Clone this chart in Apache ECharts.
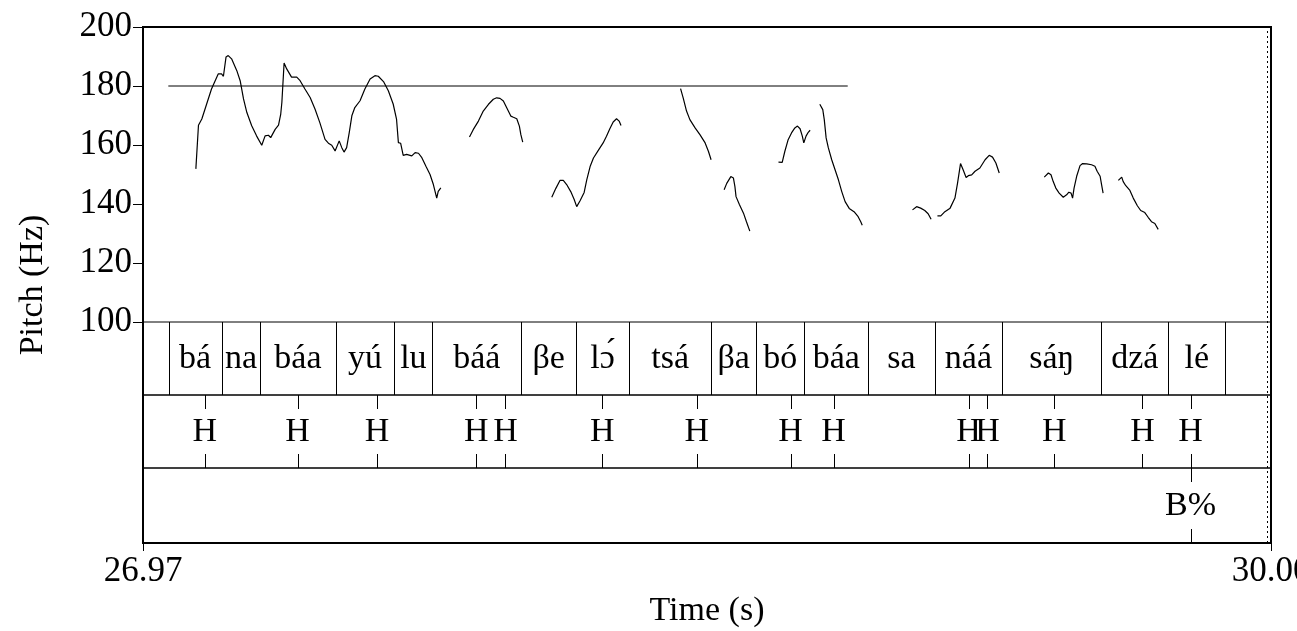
<!DOCTYPE html>
<html>
<head>
<meta charset="utf-8">
<script src="https://cdn.jsdelivr.net/npm/echarts@6/dist/echarts.min.js"></script>
<style>
  html, body { margin: 0; padding: 0; background: #fff; }
  #chart { width: 1297px; height: 631px; }
</style>
</head>
<body>
<div id="chart"></div>
<script>
// time window (s)
const tMin = 26.97
const tMax = 30.00
const soundEnd = 29.989

// pitch contour pieces [time, Hz]
const seg1 = [[27.112,151.9],[27.119,166.7],[27.128,168.8],[27.141,173.9],[27.154,179.0],[27.172,184.1],[27.181,184.1],[27.186,183.3],[27.193,189.8],[27.199,190.3],[27.208,189.2],[27.222,185.2],[27.231,181.8],[27.240,175.6],[27.249,171.0],[27.262,166.5],[27.275,163.1],[27.289,159.9],[27.298,163.1],[27.307,163.3],[27.313,162.5],[27.325,165.3],[27.334,166.7],[27.340,170.5],[27.343,174.4],[27.349,187.8],[27.356,185.8],[27.369,183.0],[27.383,183.0],[27.392,181.8],[27.405,179.0],[27.419,176.1],[27.432,172.2],[27.445,167.6],[27.459,161.9],[27.468,160.6],[27.477,159.9],[27.486,158.0],[27.490,158.0],[27.497,161.4],[27.504,159.1],[27.510,157.6],[27.517,159.1],[27.524,164.2],[27.531,169.9],[27.539,172.7],[27.553,175.0],[27.566,179.0],[27.580,182.4],[27.593,183.5],[27.602,183.3],[27.616,181.5],[27.629,178.4],[27.642,173.9],[27.651,168.8],[27.656,160.8],[27.662,160.6],[27.669,156.5],[27.678,156.8],[27.692,156.3],[27.701,157.4],[27.710,157.2],[27.719,155.7],[27.730,152.8],[27.741,150.0],[27.750,146.6],[27.759,142.0],[27.763,144.3],[27.770,145.5]]
const seg2 = [[27.847,162.7],[27.857,165.2],[27.871,168.1],[27.884,171.5],[27.898,173.8],[27.911,175.5],[27.920,176.0],[27.929,175.8],[27.938,174.9],[27.947,172.6],[27.958,169.8],[27.965,169.4],[27.974,168.9],[27.981,166.4],[27.985,163.5],[27.990,161.0]]
const seg3 = [[28.068,142.3],[28.079,145.3],[28.090,148.0],[28.099,148.0],[28.108,146.6],[28.119,144.2],[28.128,141.6],[28.135,139.1],[28.144,141.1],[28.155,143.9],[28.162,148.2],[28.171,152.7],[28.180,155.6],[28.193,158.2],[28.206,160.7],[28.215,163.0],[28.224,165.5],[28.233,167.8],[28.242,168.9],[28.249,168.1],[28.254,166.6]]
const seg4 = [[28.414,179.1],[28.421,176.0],[28.430,171.5],[28.439,168.6],[28.453,165.8],[28.466,163.5],[28.480,160.7],[28.489,157.8],[28.496,155.0]]
const seg5 = [[28.531,144.8],[28.538,147.0],[28.549,149.3],[28.556,148.8],[28.560,145.9],[28.563,142.5],[28.572,139.8],[28.583,136.9],[28.591,134.0],[28.600,130.8]]
const seg6 = [[28.677,154.2],[28.687,154.1],[28.694,157.8],[28.703,161.8],[28.712,164.1],[28.721,165.8],[28.728,166.4],[28.735,165.5],[28.741,163.0],[28.745,160.7],[28.751,163.0],[28.757,164.3],[28.762,165.0]]
const seg7 = [[28.788,173.8],[28.796,172.0],[28.800,168.6],[28.805,162.4],[28.811,159.0],[28.820,155.0],[28.829,151.6],[28.838,148.2],[28.847,144.2],[28.856,140.8],[28.867,138.5],[28.880,137.4],[28.891,135.7],[28.898,134.0],[28.902,132.8]]
const seg8 = [[29.037,138.0],[29.048,139.1],[29.059,138.6],[29.070,137.8],[29.079,136.7],[29.087,134.8]]
const seg9 = [[29.104,136.0],[29.113,136.0],[29.124,137.4],[29.138,138.6],[29.151,142.0],[29.158,147.1],[29.166,153.7],[29.173,151.6],[29.181,149.0],[29.187,149.6],[29.196,149.9],[29.205,151.1],[29.218,152.2],[29.232,155.0],[29.243,156.5],[29.252,155.9],[29.261,153.9],[29.270,150.5]]
const seg10 = [[29.391,149.1],[29.402,150.5],[29.409,149.9],[29.415,147.6],[29.422,145.4],[29.431,143.7],[29.442,142.3],[29.451,143.1],[29.457,144.0],[29.463,143.7],[29.467,142.0],[29.471,145.4],[29.478,149.4],[29.487,153.0],[29.494,153.7],[29.505,153.6],[29.518,153.3],[29.527,152.8],[29.533,151.1],[29.541,149.4],[29.545,146.5],[29.549,143.7]]
const seg11 = [[29.590,148.0],[29.599,149.1],[29.603,147.6],[29.610,146.2],[29.621,144.6],[29.630,142.0],[29.641,139.4],[29.650,137.8],[29.661,137.1],[29.670,135.5],[29.679,134.0],[29.688,133.4],[29.697,131.4]]
const segments = [seg1, seg2, seg3, seg4, seg5, seg6, seg7, seg8, seg9, seg10, seg11]

// flat reference line
const refTimes = [27.038, 28.863]
const refHz = 180

// syllable tier
const sylBounds = [27.0385, 27.1817, 27.2848, 27.4876, 27.6455, 27.7471, 27.9864, 28.1325, 28.2768, 28.4957, 28.6171, 28.7463, 28.9181, 29.0963, 29.2781, 29.5443, 29.7242, 29.8771]
const syllables = ['bá', 'na', 'báa', 'yú', 'lu', 'báá', 'βe', 'lɔ́', 'tsá', 'βa', 'bó', 'báa', 'sa', 'náá', 'sáŋ', 'dzá', 'lé']

// tone tier
const toneTimes = [27.1357, 27.3853, 27.5988, 27.8652, 27.9437, 28.2039, 28.4575, 28.7094, 28.8249, 29.1875, 29.2383, 29.418, 29.6547, 29.7839]
const toneLabels = ['H', 'H', 'H', 'H', 'H', 'H', 'H', 'H', 'H', 'H', 'H', 'H', 'H', 'H']

// boundary tier
const bndTimes = [29.7839]
const bndLabels = ['B%']

const FONT = '"Liberation Serif", "Times New Roman", serif'

let myChart = echarts.init(document.getElementById('chart'))

// 画区间层（音节）
function renderIntervals(params, api) {
  let s = api.value(0), e = api.value(1)
  let top = api.coord([s, 1]), bot = api.coord([s, 0])
  let top2 = api.coord([e, 1]), bot2 = api.coord([e, 0])
  let ls = { stroke: '#000', lineWidth: 1 }
  return {
    type: 'group',
    children: [
      { type: 'line', shape: { x1: Math.round(top[0]) + 0.5, y1: top[1], x2: Math.round(bot[0]) + 0.5, y2: bot[1] }, style: ls },
      { type: 'line', shape: { x1: Math.round(top2[0]) + 0.5, y1: top2[1], x2: Math.round(bot2[0]) + 0.5, y2: bot2[1] }, style: ls },
      { type: 'text', x: (top[0] + top2[0]) / 2, y: (top[1] + bot[1]) / 2 + 1,
        style: { text: syllables[params.dataIndex], fill: '#000', font: '34px ' + FONT, align: 'center', verticalAlign: 'middle' } }
    ]
  }
}

// 画点层（H, B%）
function makePointRenderer(labels) {
  return function (params, api) {
    let t = api.value(0)
    let top = api.coord([t, 1]), bot = api.coord([t, 0])
    let x = Math.round(top[0]) + 0.5
    let ls = { stroke: '#000', lineWidth: 1 }
    return {
      type: 'group',
      children: [
        { type: 'line', shape: { x1: x, y1: top[1], x2: x, y2: top[1] + 14 }, style: ls },
        { type: 'line', shape: { x1: x, y1: bot[1] - 14, x2: x, y2: bot[1] }, style: ls },
        { type: 'text', x: top[0], y: (top[1] + bot[1]) / 2 + 1,
          style: { text: labels[params.dataIndex], fill: '#000', font: '34px ' + FONT, align: 'center', verticalAlign: 'middle' } }
      ]
    }
  }
}

let hiddenX = i => ({ type: 'value', gridIndex: i, min: tMin, max: tMax, show: false })
let hiddenY = i => ({ type: 'value', gridIndex: i, min: 0, max: 1, show: false })

let series = segments.map(seg => ({
  type: 'line', xAxisIndex: 1, yAxisIndex: 1,
  data: seg, showSymbol: false, symbol: 'none', silent: true,
  lineStyle: { color: '#000', width: 1.2 }
}))

series.push({
  type: 'line', xAxisIndex: 1, yAxisIndex: 1,
  data: refTimes.map(t => [t, refHz]), showSymbol: false, symbol: 'none', silent: true,
  lineStyle: { color: '#000', width: 1 }
})

// end of sound, dotted
series.push({
  type: 'line', xAxisIndex: 0, yAxisIndex: 0, data: [],
  markLine: {
    silent: true, symbol: ['none', 'none'], label: { show: false },
    lineStyle: { color: '#000', width: 1, type: [2, 3] },
    data: [{ xAxis: soundEnd }]
  }
})

series.push({
  type: 'custom', xAxisIndex: 2, yAxisIndex: 2, silent: true,
  data: syllables.map((w, i) => [sylBounds[i], sylBounds[i + 1]]),
  encode: { x: [0, 1] },
  renderItem: renderIntervals
})
series.push({
  type: 'custom', xAxisIndex: 3, yAxisIndex: 3, silent: true,
  data: toneTimes.map(t => [t]), encode: { x: 0 },
  renderItem: makePointRenderer(toneLabels)
})
series.push({
  type: 'custom', xAxisIndex: 4, yAxisIndex: 4, silent: true,
  data: bndTimes.map(t => [t]), encode: { x: 0 },
  renderItem: makePointRenderer(bndLabels)
})

let baseGrid = { left: 143, width: 1128, containLabel: false, outerBoundsMode: 'none' }

let option = {
  animation: false,
  backgroundColor: '#fff',
  grid: [
    Object.assign({}, baseGrid, { top: 27, height: 516, show: true, borderColor: '#000', borderWidth: 2, backgroundColor: 'transparent' }),
    Object.assign({}, baseGrid, { top: 27, height: 295 }),
    Object.assign({}, baseGrid, { top: 322, height: 73, show: true, borderColor: '#000', borderWidth: 1, backgroundColor: 'transparent' }),
    Object.assign({}, baseGrid, { top: 395, height: 73, show: true, borderColor: '#000', borderWidth: 1, backgroundColor: 'transparent' }),
    Object.assign({}, baseGrid, { top: 468, height: 75, show: true, borderColor: '#000', borderWidth: 1, backgroundColor: 'transparent' })
  ],
  xAxis: [
    {
      type: 'value', gridIndex: 0, min: tMin, max: tMax,
      axisLine: { show: false },
      splitLine: { show: false },
      axisTick: { show: true, length: 8, customValues: [tMin, tMax], lineStyle: { color: '#000', width: 1 } },
      axisLabel: {
        customValues: [tMin, tMax], formatter: v => v.toFixed(2),
        color: '#000', fontFamily: FONT, fontSize: 35, margin: 11
      },
      name: 'Time (s)', nameLocation: 'middle', nameGap: 51,
      nameTextStyle: { color: '#000', fontFamily: FONT, fontSize: 34 }
    },
    hiddenX(1), hiddenX(2), hiddenX(3), hiddenX(4)
  ],
  yAxis: [
    {
      type: 'value', gridIndex: 0, min: 0, max: 1,
      axisLine: { show: false }, axisTick: { show: false }, axisLabel: { show: false }, splitLine: { show: false },
      name: 'Pitch (Hz)', nameLocation: 'middle', nameGap: 93,
      nameTextStyle: { color: '#000', fontFamily: FONT, fontSize: 34 }
    },
    {
      type: 'value', gridIndex: 1, min: 100, max: 200, interval: 20,
      axisLine: { show: false },
      axisTick: { show: true, length: 10, lineStyle: { color: '#000', width: 1 } },
      axisLabel: { color: '#000', fontFamily: FONT, fontSize: 35, margin: 11 },
      splitLine: { show: false }
    },
    hiddenY(2), hiddenY(3), hiddenY(4)
  ],
  series: series
}

myChart.setOption(option)
</script>
</body>
</html>
